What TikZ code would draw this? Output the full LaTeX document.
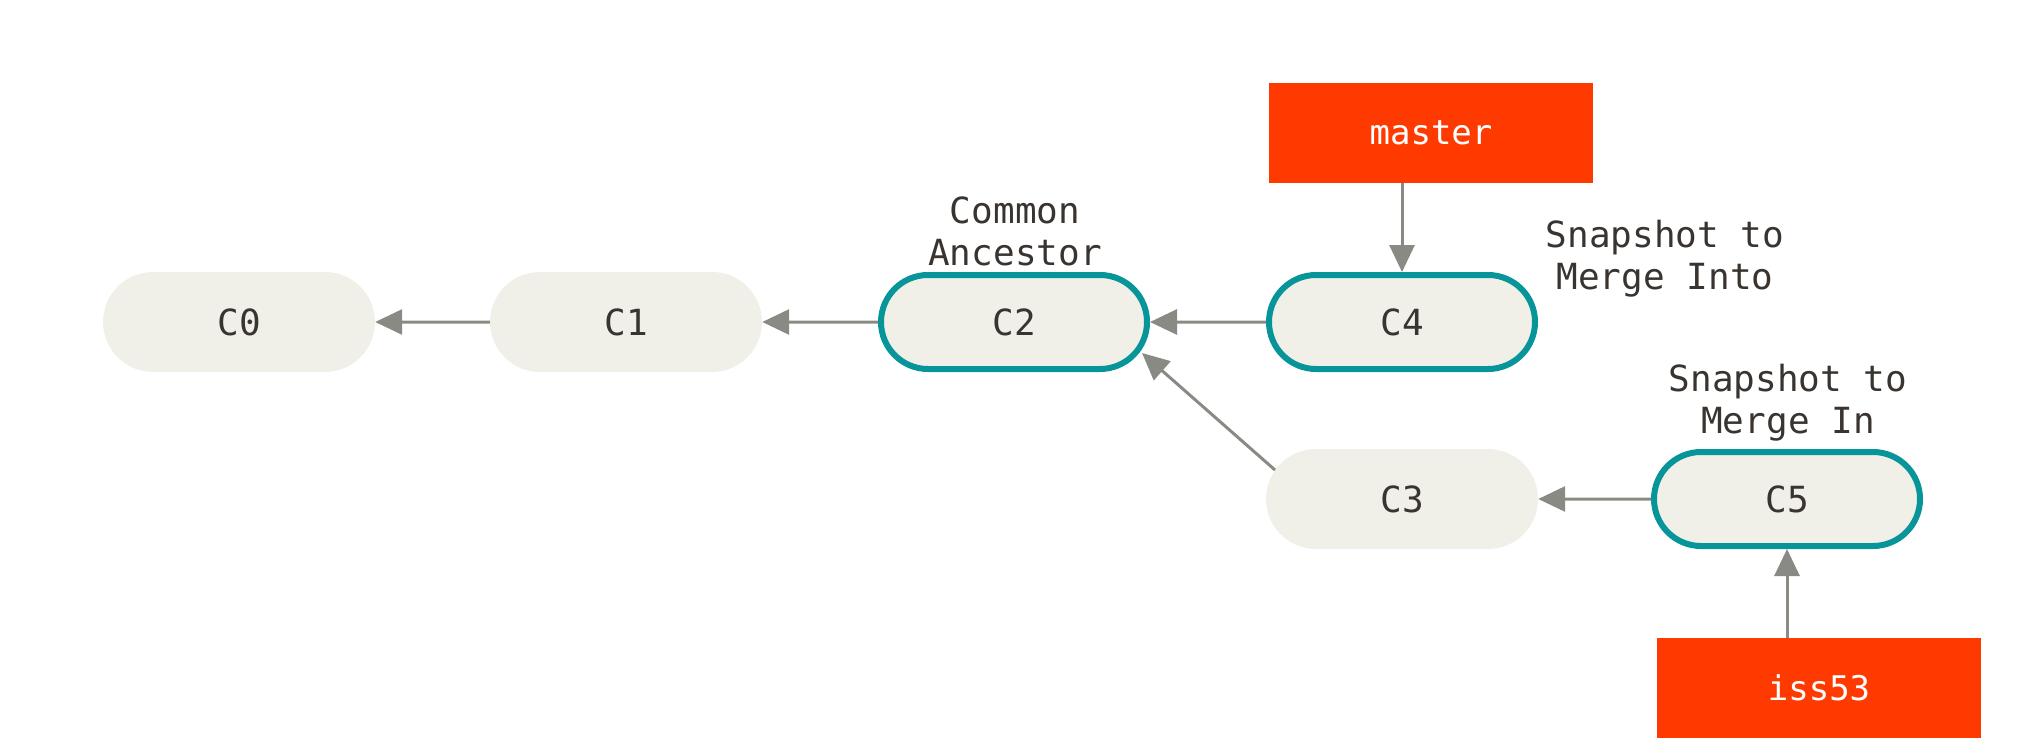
\documentclass[tikz,border=0pt]{standalone}
\usepackage{fontspec}
\setmonofont{DejaVu Sans Mono}
\usetikzlibrary{arrows.meta,shapes.misc,calc}
\definecolor{nodefill}{HTML}{F0F0E8}
\definecolor{teal2}{HTML}{07959A}
\definecolor{branchred}{HTML}{FF3A00}
\definecolor{txt}{HTML}{3A3430}
\definecolor{arrgray}{HTML}{8A8A84}
\begin{document}
\begin{tikzpicture}[x=1pt,y=-1pt,
  commit/.style={rounded rectangle, fill=nodefill, draw=none, minimum width=272pt, minimum height=100pt,
    inner sep=0pt, text=txt, font=\ttfamily\fontsize{36}{43}\selectfont},
  hicommit/.style={commit, draw=teal2, line width=6pt, minimum width=266pt, minimum height=94pt},
  branch/.style={rectangle, fill=branchred, draw=none, minimum width=324pt, minimum height=100pt,
    inner sep=0pt, text=white, font=\ttfamily\fontsize{34}{40}\selectfont},
  note/.style={align=center, text=txt, font=\ttfamily\fontsize{36}{42}\selectfont, inner sep=0pt},
  arr/.style={draw=arrgray, line width=3pt, -{Triangle[length=27pt,width=25pt]}, fill=arrgray}
]
\useasboundingbox (0,0) rectangle (2042,754);
\node[commit] (C0) at (239,322) {C0};
\node[commit] (C1) at (626,322) {C1};
\node[hicommit] (C2) at (1014,322) {C2};
\node[hicommit] (C4) at (1402,322) {C4};
\node[commit] (C3) at (1402,499) {C3};
\node[hicommit] (C5) at (1787,499) {C5};
\node[branch] (master) at (1431,133) {master};
\node[branch] (iss53) at (1819,688) {iss53};
\node[note] (anc) at (1015,231) {Common\\Ancestor};
\node[note] (into) at (1665,259) {Snapshot to\\Merge Into};
\node[note] (in) at (1788,403) {Snapshot to\\Merge In};
\draw[arr] (C1) -- (C0);
\draw[arr] (C2) -- (C1);
\draw[arr] (C4) -- (C2);
\draw[arr] (C5) -- (C3);
\coordinate (d1) at ($(C3.center)+(-127,-29)$);
\coordinate (d2) at ($(C2.center)+(128,31)$);
\draw[arr] (d1) -- (d2);
\draw[arr] (master.south -| C4.north) -- (C4.north);
\draw[arr] (iss53.north -| C5.south) -- (C5.south);
\end{tikzpicture}
\end{document}
